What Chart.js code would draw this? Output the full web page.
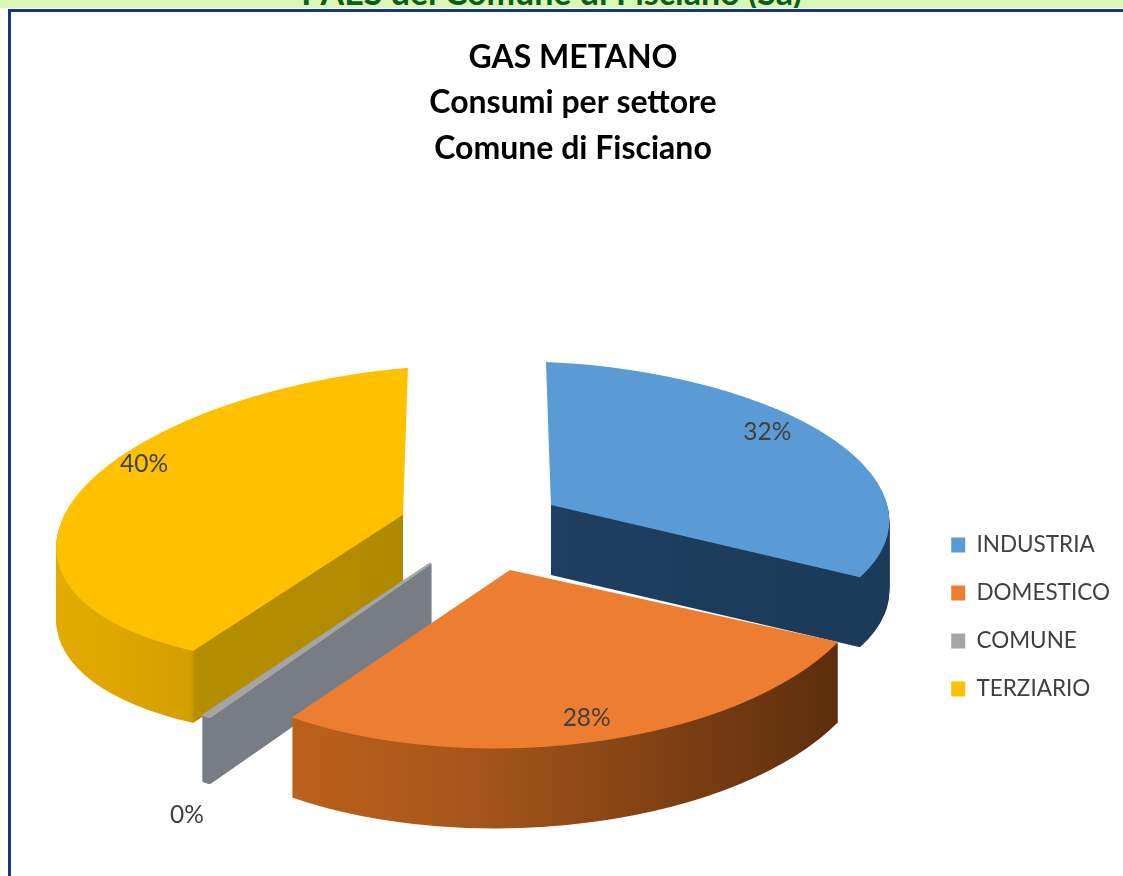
<!DOCTYPE html>
<html><head><meta charset="utf-8">
<script src="https://cdn.jsdelivr.net/npm/chart.js@4"></script>
<style>
html,body{margin:0;padding:0;width:1123px;height:876px;overflow:hidden;background:#fff}
#band{position:absolute;left:0;top:0;width:1123px;height:8px;background:#d9f7b5;overflow:hidden}
#band span{position:absolute;left:0;width:1103px;text-align:center;top:-29px;font:bold 34px Lato,sans-serif;color:#0f5a1e}
#frame{position:absolute;left:8px;top:9px;width:1125px;height:880px;border:solid #1c3580;border-width:3px 0 0 3px;box-sizing:border-box}
canvas{position:absolute;left:0;top:0}
</style></head><body>
<div id="band"><span>PAES del Comune di Fisciano (Sa)</span></div>
<div id="frame"></div>
<canvas id="c" width="1123" height="896"></canvas>
<script>
const titleLines = ["GAS METANO","Consumi per settore","Comune di Fisciano"];
const categories = ["INDUSTRIA","DOMESTICO","COMUNE","TERZIARIO"];
const shares = [32,28,0.3,40];
const shownLabels = ["32%","28%","0%","40%"];
const topColors = ["#5b9bd5","#ed7d31","#a5a5a5","#ffc000"];
const explode = 82;
const baseSquash = 0.527;
const depths = [70,80,66,72];
const apexNudgeX = [6,13,3,5];
/* per-slice projection standing in for the perspective of the 3-D pie */
const projA = [0.995,1.075,1.125,1.02];
const projB = [0.0147,-0.0235,0,-0.0147];
const projC = [0.04,-0.0096,0,-0.09];
const projD = [0.42,0.525,0.556,0.432];
const labelRadius = [0.866,0.865,1.476,0.905];
const labelTurn = [-9,-0.4,-10.3,15.4];

function apex(el,i){
  const half=(el.startAngle+el.endAngle)/2;
  return {x:el.x+Math.cos(half)*explode+apexNudgeX[i], y:el.y+Math.sin(half)*explode*baseSquash, half};
}
function applySlice(ctx,el,i){
  const p=apex(el,i);
  ctx.translate(p.x,p.y);
  ctx.transform(projA[i],projC[i],projB[i],projD[i],0,0);
  ctx.translate(-el.x,-el.y);
}
function wallFill(ctx,el,i){
  const r=el.outerRadius, g=ctx.createLinearGradient(el.x-r,0,el.x+r,0);
  if(i===0){g.addColorStop(0,"#1f4468");g.addColorStop(1,"#1c3a59");}
  if(i===1){g.addColorStop(0,"#cc6a1c");g.addColorStop(.45,"#a8561b");g.addColorStop(1,"#552a0b");}
  if(i===2){g.addColorStop(0,"#787d85");g.addColorStop(1,"#787d85");}
  if(i===3){g.addColorStop(0,"#e4ab00");g.addColorStop(.2,"#d49f00");g.addColorStop(.206,"#b58e00");g.addColorStop(1,"#a88300");}
  return g;
}
const pie3d={id:"pie3d",
  beforeDatasetDraw(chart,args){
    const ctx=chart.ctx, arcs=args.meta.data;
    [3,2,0,1].forEach(i=>{
      const el=arcs[i], p=apex(el,i);
      for(let k=depths[i];k>=0;k--){
        const clone=Object.create(el);
        const fill=k?wallFill(ctx,el,i):topColors[i];
        clone.options=Object.assign({},el.options,{backgroundColor:fill,borderColor:fill,borderWidth:i===2?3:0,offset:0});
        ctx.save();
        if(k&&i===0){ctx.beginPath();ctx.rect(p.x,0,chart.width,chart.height);ctx.clip();}
        if(k&&i===3){ctx.beginPath();ctx.rect(0,0,p.x,chart.height);ctx.clip();}
        ctx.translate(0,k);applySlice(ctx,el,i);
        Chart.ArcElement.prototype.draw.call(clone,ctx);
        ctx.restore();
      }
    });
    return false;
  },
  afterDatasetsDraw(chart){
    const ctx=chart.ctx, arcs=chart.getDatasetMeta(0).data;
    ctx.save();ctx.font="24.5px Lato, sans-serif";ctx.fillStyle="#404040";ctx.textAlign="center";ctx.textBaseline="middle";
    arcs.forEach((el,i)=>{
      const p=apex(el,i);
      const t=p.half+labelTurn[i]*Math.PI/180;
      const d=el.outerRadius*labelRadius[i];
      const mx=Math.cos(t)*d,my=Math.sin(t)*d;
      ctx.fillText(shownLabels[i],p.x+projA[i]*mx+projB[i]*my,p.y+projC[i]*mx+projD[i]*my);
    });
    ctx.restore();
  },
  afterLayout(chart){const l=chart.legend;l.top+=163;l.bottom+=163;l.left+=11;l.right+=11;}
};
new Chart(document.getElementById("c"),{
  type:"pie",
  data:{labels:categories,datasets:[{data:shares,backgroundColor:topColors,borderWidth:0}]},
  plugins:[pie3d],
  options:{responsive:false,animation:false,radius:340,
    layout:{padding:{left:37,top:23,right:14,bottom:11}},
    plugins:{
      tooltip:{enabled:false},
      title:{display:true,text:titleLines,color:"#000",font:{family:"Lato, sans-serif",size:32,weight:"bold",lineHeight:1.42},padding:{top:12,bottom:0}},
      legend:{position:"right",labels:{boxWidth:14,boxHeight:15,padding:25.5,color:"#404040",font:{family:"Lato, sans-serif",size:22.5}}}
    }
  }
});
</script></body></html>
